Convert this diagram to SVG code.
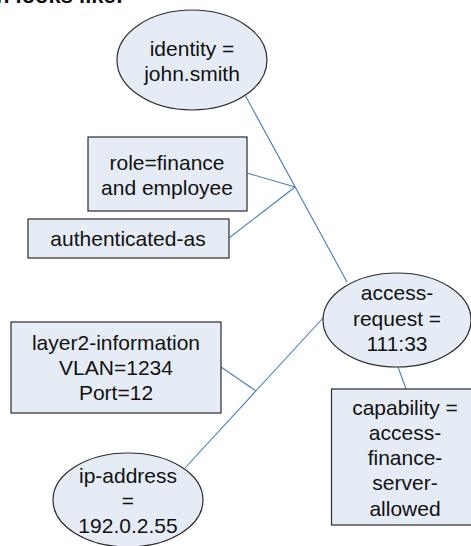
<svg xmlns="http://www.w3.org/2000/svg" width="471" height="546" viewBox="0 0 471 546">
<style>
.n{fill:#e6ecf6;stroke:#2b2b2b;stroke-width:1.2}
.t{font-family:"Liberation Sans",Arial,sans-serif;font-size:21px;fill:#111;text-anchor:middle;dominant-baseline:central}
.c{stroke:#4a7ebb;stroke-width:1.1;fill:none}
</style>
<rect width="471" height="546" fill="#fff"/>
<text x="-4" y="3" style="font-family:'Liberation Sans',Arial,sans-serif;font-size:22px;font-weight:bold;fill:#111">n looks like:</text>
<g id="connectors">
<line class="c" x1="245" y1="95" x2="347" y2="282"/>
<line class="c" x1="247" y1="173" x2="295" y2="187"/>
<line class="c" x1="229" y1="238" x2="295" y2="187"/>
<line class="c" x1="185" y1="468" x2="323" y2="318"/>
<line class="c" x1="221" y1="367" x2="256" y2="391"/>
<line class="c" x1="398" y1="367" x2="406" y2="389"/>
</g>
<g id="identity">
<ellipse class="n" cx="192" cy="60" rx="75" ry="50"/>
<text class="t" x="192" y="48">identity =</text>
<text class="t" x="192" y="73">john.smith</text>
</g>
<g id="role">
<rect class="n" x="88" y="137" width="159" height="74"/>
<text class="t" x="167" y="162">role=finance</text>
<text class="t" x="167" y="187">and employee</text>
</g>
<g id="authenticated">
<rect class="n" x="28" y="219" width="201" height="39"/>
<text class="t" x="128" y="238">authenticated-as</text>
</g>
<g id="access-request">
<ellipse class="n" cx="397" cy="320" rx="74" ry="47"/>
<text class="t" x="397" y="292">access-</text>
<text class="t" x="397" y="318">request =</text>
<text class="t" x="397" y="343">111:33</text>
</g>
<g id="layer2">
<rect class="n" x="11" y="322" width="210" height="91"/>
<text class="t" x="116" y="342">layer2-information</text>
<text class="t" x="116" y="367">VLAN=1234</text>
<text class="t" x="116" y="392">Port=12</text>
</g>
<g id="capability">
<rect class="n" x="331.5" y="389" width="145" height="136"/>
<text class="t" x="405" y="407">capability =</text>
<text class="t" x="405" y="432">access-</text>
<text class="t" x="405" y="457">finance-</text>
<text class="t" x="405" y="482">server-</text>
<text class="t" x="405" y="508">allowed</text>
</g>
<g id="ip-address">
<ellipse class="n" cx="128" cy="500" rx="75" ry="47"/>
<text class="t" x="128" y="475">ip-address</text>
<text class="t" x="128" y="500">=</text>
<text class="t" x="128" y="525">192.0.2.55</text>
</g>
</svg>
